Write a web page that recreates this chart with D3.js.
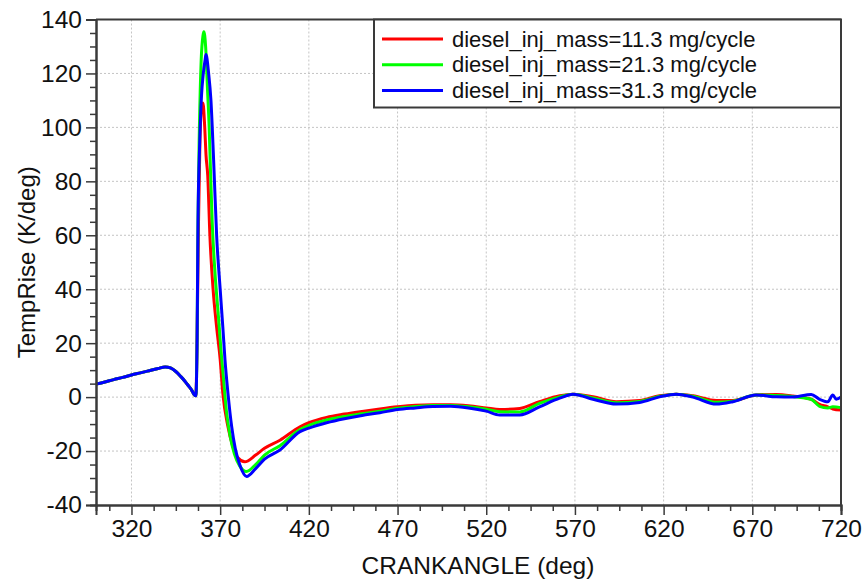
<!DOCTYPE html>
<html>
<head>
<meta charset="utf-8">
<script src="https://cdnjs.cloudflare.com/ajax/libs/d3/7.8.5/d3.min.js"></script>
<style>
body{margin:0;background:#fff;}
</style>
</head>
<body>
<svg id="chart" width="867" height="580"></svg>
<script>
// shared part of all three traces (compression, before ignition)
var commonAngle = [300,305,310,315,320,325,330,335,339,342,345,348,350,352,354,355.5,356.3];
var commonTemp  = [4.8,5.6,6.5,7.3,8.2,9.0,9.8,10.6,11.2,10.8,9.5,7.5,6.0,4.3,2.5,0.8,0.5];

var redAngle = [357,357.8,358.6,359.6,360.3,361.3,362,363,364.2,366,368,370,371.5,374.4,377,380,383.9,390,395,403.7,415,420,430,440,450,460,470,480,490,500,510,520,527.6,538.9,550,561.4,568.9,580.2,593.3,606.5,617.7,627.1,636.5,649.7,659,672.2,683.5,692.8,703.2,707.9,712.6,715.4,720];
var redTemp  = [22,65,95,108,109,100,90,82,60,40,26,14,1.4,-11,-18,-22.5,-24,-21.5,-19,-16,-11,-9.5,-7.5,-6.3,-5.3,-4.4,-3.6,-3.0,-2.8,-2.8,-3.2,-4.0,-4.6,-4.2,-1.7,0.5,1.1,0.1,-1.7,-1.3,0.5,1.1,0.5,-1.3,-1.3,0.8,1.0,0.4,-0.8,-2.7,-3.6,-4.4,-4.8];

var greenAngle = [357,357.5,358.3,359.3,360.3,360.8,361.8,362.8,363.8,364.5,365.5,367,369,370.5,372,373.5,375.5,378,381,384.8,390,395,403.7,415,420,430,440,450,460,470,480,490,500,510,520,527.6,538.9,550,561.4,568.9,580.2,593.3,606.5,617.7,627.1,636.5,649.7,659,672.2,683.5,692.8,703.2,707.9,712.6,715.4,720];
var greenTemp  = [22,65,100,125,134,135.5,130,115,100,85,65,47,30,17,6,-5,-14,-21,-25.5,-27.6,-25,-21.5,-18,-12,-10.5,-8.5,-7.2,-6.2,-5.2,-4.1,-3.5,-3.1,-3.1,-3.6,-4.5,-5.4,-5.5,-2.3,0.1,1.1,-0.3,-2.1,-1.6,0.3,1.1,0.3,-1.9,-1.5,0.8,0.6,0.2,-0.8,-3.4,-4.0,-3.6,-3.9];

var blueAngle = [357,357.5,358.5,359.5,360.5,361.5,362,363.5,364.8,366.3,368,370,371.5,372.7,374.4,376.5,378.5,381,384.9,390,395,403.7,415,420,430,440,450,460,470,480,490,500,510,520,527.6,538.9,550,561.4,568.9,580.2,593.3,606.5,617.7,627.1,636.5,649.7,659,672.2,683.5,692.8,703.2,707.9,712.6,715.4,717.3,720];
var blueTemp  = [22,65,95,112,120,125,127,120,110,88,60,40,26,14,1.4,-11,-19,-25,-29.4,-26.5,-23,-19.6,-12.8,-11.5,-9.5,-8.0,-6.8,-5.8,-4.6,-4.0,-3.5,-3.4,-4.0,-5.2,-6.6,-6.6,-3.6,-0.4,1.1,-0.8,-2.6,-2.0,0.1,1.1,0,-2.6,-1.7,0.8,0.1,0,1.0,-0.8,-1.7,0.8,-0.8,0];

var seriesNames  = ["diesel_inj_mass=11.3 mg/cycle","diesel_inj_mass=21.3 mg/cycle","diesel_inj_mass=31.3 mg/cycle"];
var seriesColors = ["#ff0000","#00ff00","#0000ff"];
var xTicks = [320,370,420,470,520,570,620,670,720];
var yTicks = [-40,-20,0,20,40,60,80,100,120,140];

var plotLeft=96, plotRight=841, plotTop=19.5, plotBottom=505;
var axisColor="#3a3a3a";
var fontFam="'Liberation Sans', Arial, sans-serif";

var svg = d3.select("#chart");
var x = d3.scaleLinear().domain([300,720]).range([plotLeft,plotRight]);
var y = d3.scaleLinear().domain([-40,140]).range([plotBottom,plotTop]);

function pts(a,t){
	var out = [];
	for(var i=0;i<commonAngle.length;i++) out.push([commonAngle[i],commonTemp[i]]);
	for(var i=0;i<a.length;i++) out.push([a[i],t[i]]);
	return out;
}
var series = [pts(redAngle,redTemp),pts(greenAngle,greenTemp),pts(blueAngle,blueTemp)];

// grid
svg.append("g").selectAll("line").data(xTicks.filter(d=>d<720)).enter().append("line")
	.attr("x1",d=>x(d)).attr("x2",d=>x(d)).attr("y1",plotTop).attr("y2",plotBottom)
	.attr("stroke","#c4c4c4").attr("stroke-width",1).attr("stroke-dasharray","2,2");
svg.append("g").selectAll("line").data(yTicks.filter(d=>d>-40&&d<140)).enter().append("line")
	.attr("y1",d=>y(d)).attr("y2",d=>y(d)).attr("x1",plotLeft).attr("x2",plotRight)
	.attr("stroke","#c4c4c4").attr("stroke-width",1).attr("stroke-dasharray","2,2");

// curves
var line = d3.line().curve(d3.curveMonotoneX).x(d=>x(d[0])).y(d=>y(d[1]));
svg.append("g").selectAll("path").data(series).enter().append("path")
	.attr("d",line).attr("fill","none")
	.attr("stroke",(d,i)=>seriesColors[i]).attr("stroke-width",3).attr("stroke-linejoin","round");

// axes
var xAxis = d3.axisBottom(x).tickValues(xTicks).tickSize(10).tickPadding(5).tickFormat(d=>String(d));
var xMinor = d3.axisBottom(x).tickValues(d3.range(307.5,720,12.5).filter(d=>(d-320)%50!=0)).tickSize(6).tickFormat("");
var yAxis = d3.axisLeft(y).tickValues(yTicks).tickSize(10).tickPadding(4).tickFormat(d=>String(d));
var yMinor = d3.axisLeft(y).tickValues(d3.range(-35,140,5).filter(d=>d%20!=0)).tickSize(6).tickFormat("");

svg.append("g").attr("transform","translate(0,"+plotBottom+")").call(xAxis);
svg.append("g").attr("transform","translate(0,"+plotBottom+")").call(xMinor);
svg.append("g").attr("transform","translate("+plotLeft+",0)").call(yAxis);
svg.append("g").attr("transform","translate("+plotLeft+",0)").call(yMinor);
svg.selectAll(".domain").attr("stroke",axisColor).attr("stroke-width",2);
svg.selectAll(".tick line").attr("stroke",axisColor).attr("stroke-width",1.5);
svg.selectAll(".tick text").attr("fill","#111").attr("font-family",fontFam).attr("font-size","24.5px");

// frame top and right
svg.append("line").attr("x1",plotLeft).attr("x2",plotRight).attr("y1",plotTop).attr("y2",plotTop).attr("stroke",axisColor).attr("stroke-width",2);
svg.append("line").attr("x1",plotRight).attr("x2",plotRight).attr("y1",plotTop).attr("y2",plotBottom).attr("stroke",axisColor).attr("stroke-width",2);

// titles
svg.append("text").text("CRANKANGLE (deg)").attr("x",478).attr("y",574)
	.attr("text-anchor","middle").attr("font-family",fontFam).attr("font-size","24.5px").attr("fill","#111");
svg.append("text").text("TempRise (K/deg)").attr("transform","translate(35,"+((plotTop+plotBottom)/2)+") rotate(-90)")
	.attr("text-anchor","middle").attr("font-family",fontFam).attr("font-size","24px").attr("fill","#111");

// legend
var lg = svg.append("g");
lg.append("rect").attr("x",374).attr("y",plotTop).attr("width",plotRight-374).attr("height",88)
	.attr("fill","#fff").attr("stroke",axisColor).attr("stroke-width",2);
var rows = lg.selectAll("g.row").data(seriesNames).enter().append("g").attr("class","row")
	.attr("transform",(d,i)=>"translate(0,"+(39+i*25.8)+")");
rows.append("line").attr("x1",382).attr("x2",443).attr("y1",0).attr("y2",0)
	.attr("stroke",(d,i)=>seriesColors[i]).attr("stroke-width",3);
rows.append("text").text(d=>d).attr("x",452).attr("y",7.5)
	.attr("font-family",fontFam).attr("font-size","22px").attr("fill","#111");
</script>
</body>
</html>
